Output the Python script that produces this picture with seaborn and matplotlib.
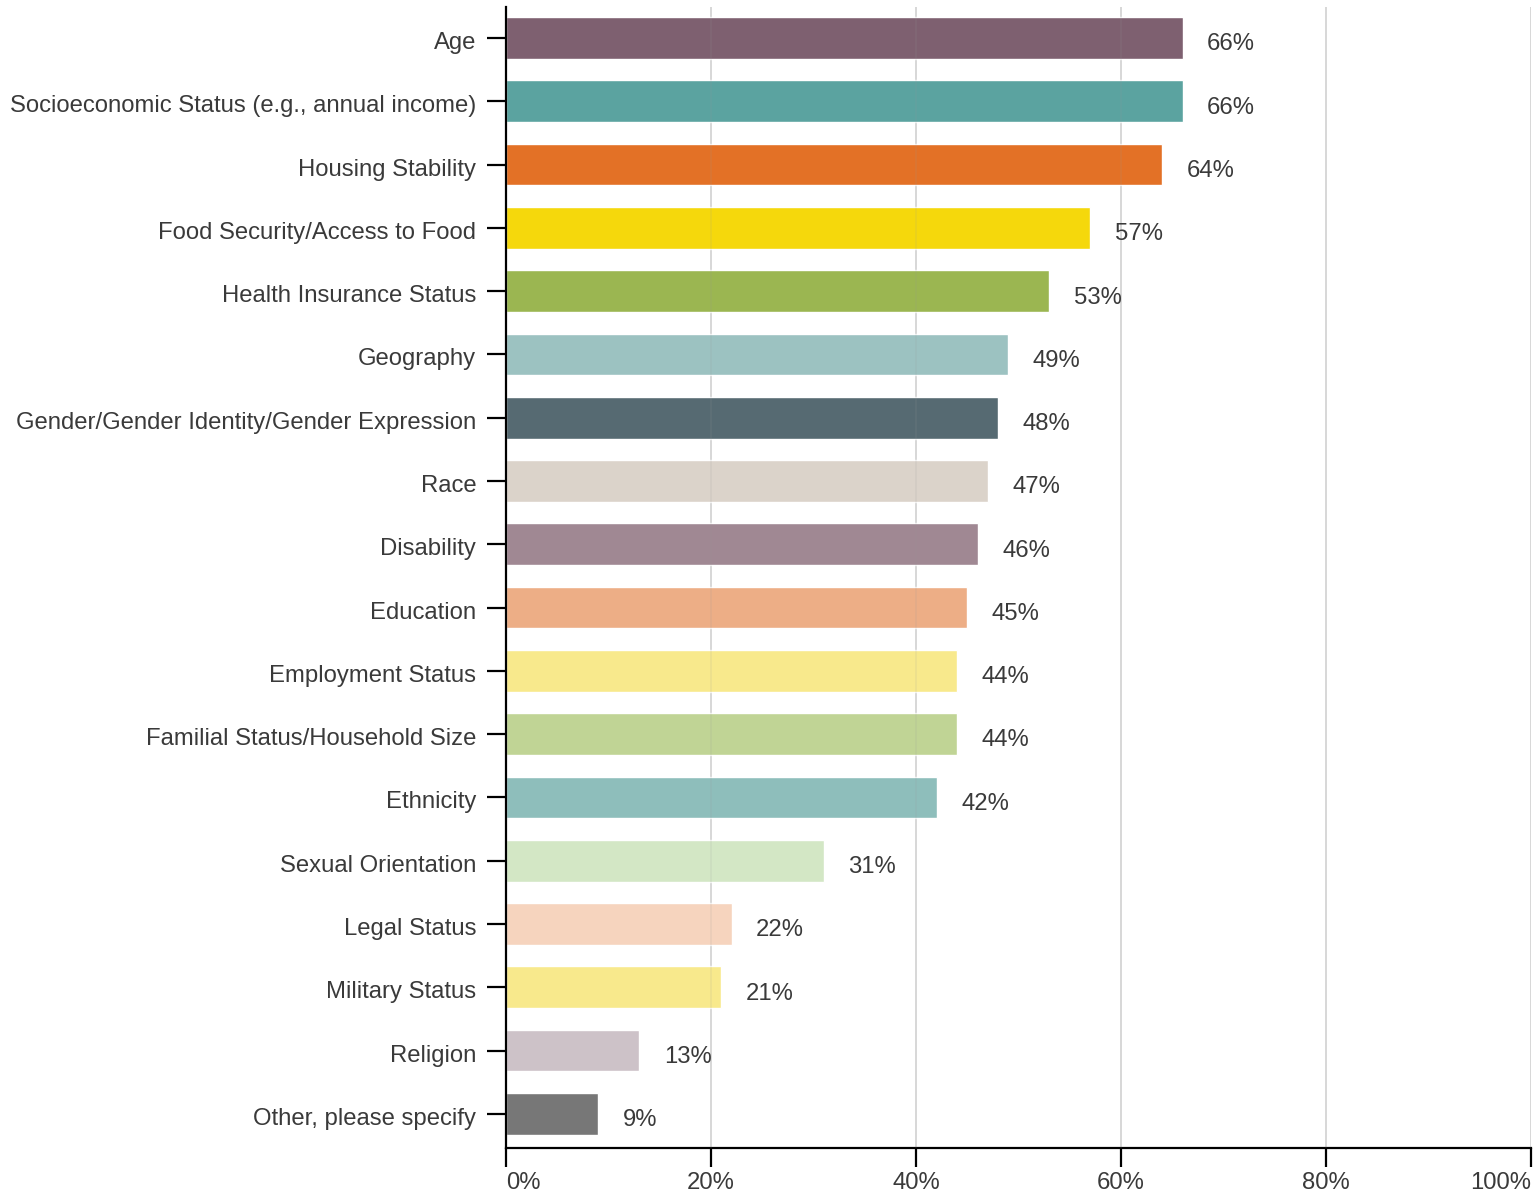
import matplotlib
matplotlib.use("Agg")
import matplotlib.pyplot as plt
import matplotlib.transforms as mtransforms
import seaborn as sns
import pandas as pd

categories = [
    "Age",
    "Socioeconomic Status (e.g., annual income)",
    "Housing Stability",
    "Food Security/Access to Food",
    "Health Insurance Status",
    "Geography",
    "Gender/Gender Identity/Gender Expression",
    "Race",
    "Disability",
    "Education",
    "Employment Status",
    "Familial Status/Household Size",
    "Ethnicity",
    "Sexual Orientation",
    "Legal Status",
    "Military Status",
    "Religion",
    "Other, please specify",
]
values = [66, 66, 64, 57, 53, 49, 48, 47, 46, 45, 44, 44, 42, 31, 22, 21, 13, 9]
colors = [
    "#7e6070", "#5ba3a0", "#e37126", "#f5d80c", "#9bb651", "#9cc2c1",
    "#566a72", "#dbd3ca", "#a08893", "#edae86", "#f8e98c", "#c0d495",
    "#8ebebb", "#d3e7c5", "#f6d4be", "#f8e98c", "#cdc2c8", "#777777",
]
x_ticks = [0, 20, 40, 60, 80, 100]
x_tick_labels = ["0%", "20%", "40%", "60%", "80%", "100%"]

sns.set_theme(style="white")
plt.rcParams["font.family"] = ["Liberation Sans", "DejaVu Sans"]
text_color = "#3a3a3a"
fs = 17.2

df = pd.DataFrame({"category": categories, "value": values})

fig = plt.figure(figsize=(15.4, 11.93), dpi=100)
ax = fig.add_axes([0.3286, 0.0377, 0.6656, 0.9564])

# gridlines sit behind the bars, with a faint copy showing through on top
for t in x_ticks[1:]:
    ax.axvline(t, color="#dddddd", lw=1.3, zorder=1)
    ax.axvline(t, color="#999999", lw=1.3, alpha=0.12, zorder=3)

sns.barplot(
    data=df, x="value", y="category", hue="category",
    palette=colors, order=categories, hue_order=categories,
    width=0.66, legend=False, ax=ax, saturation=1, zorder=2,
)

ax.set_xlim(0, 100)
ax.set_ylim(len(categories) - 0.46, -0.49)
ax.set_xticks(x_ticks)
ax.set_xticklabels(x_tick_labels)
ax.set_xlabel("")
ax.set_ylabel("")

# value labels to the right of each bar
for i, v in enumerate(values):
    ax.text(v + 2.4, i + 0.1, f"{v}%", va="center", ha="left",
            fontsize=fs, color=text_color, zorder=4)

for side in ["top", "right"]:
    ax.spines[side].set_visible(False)
for side in ["left", "bottom"]:
    ax.spines[side].set_color("black")
    ax.spines[side].set_linewidth(1.6)

ax.tick_params(axis="y", length=13.5, width=1.6, color="black", pad=8,
               labelsize=fs, labelcolor=text_color, left=True)
ax.tick_params(axis="x", length=13.5, width=1.6, color="black", pad=4,
               labelsize=fs, labelcolor=text_color, bottom=True)

shift_down = mtransforms.ScaledTranslation(0, -2.5 / 100, fig.dpi_scale_trans)
for lbl in ax.get_yticklabels():
    lbl.set_va("center_baseline")
    lbl.set_transform(lbl.get_transform() + shift_down)

xlabels = ax.get_xticklabels()
xlabels[0].set_ha("left")
xlabels[-1].set_ha("right")

fig.savefig("out.png", dpi=100, facecolor="white")
